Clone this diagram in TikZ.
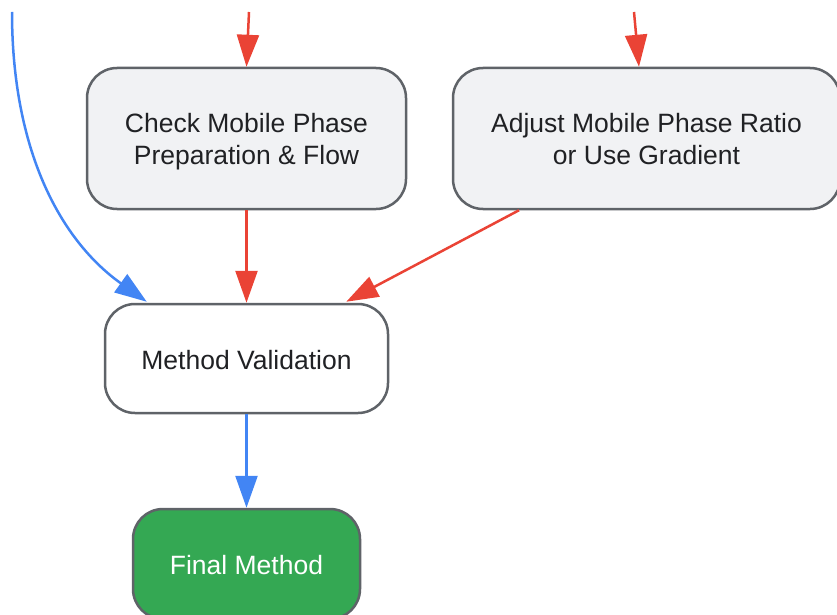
\documentclass[tikz,border=0pt]{standalone}
\usepackage{fontspec}
\setmainfont{Liberation Sans}
\usetikzlibrary{arrows.meta,calc}
\definecolor{redline}{HTML}{EA4335}
\definecolor{blueline}{HTML}{4285F4}
\definecolor{greenfill}{HTML}{34A853}
\definecolor{bordergray}{HTML}{5F6368}
\definecolor{boxfill}{HTML}{F1F2F4}
\definecolor{textdark}{HTML}{202124}
\begin{document}
\begin{tikzpicture}[x=1pt,y=-1pt,
  box/.style={draw=bordergray,line width=2.5pt,rounded corners=30pt,inner sep=0pt},
  boxtext/.style={align=center,inner sep=0pt,text=textdark,
    font=\fontsize{26.5}{32}\selectfont},
  redarrow/.style={draw=redline,line width=2.5pt,
    -{Triangle[length=32pt,width=22pt]}},
  bluearrow/.style={draw=blueline,line width=2.5pt,
    -{Triangle[length=32pt,width=22pt]}}]
\useasboundingbox (0,0) rectangle (837,615);
\node[box,fill=boxfill,minimum width=319pt,minimum height=141pt] (check) at (246.5,138.5) {};
\node[boxtext] (checkt) at (246.5,142) {Check Mobile Phase\\Preparation \& Flow};
\node[box,fill=boxfill,minimum width=387pt,minimum height=141pt] (adjust) at (646.5,138.5) {};
\node[boxtext] (adjustt) at (646.5,139) {Adjust Mobile Phase Ratio\\or Use Gradient};
\node[box,fill=white,minimum width=283pt,minimum height=109pt] (valid) at (246.5,358.5) {};
\node[boxtext] (validt) at (246.5,360) {Method Validation};
\node[box,fill=greenfill,minimum width=227pt,minimum height=110pt] (final) at (246.5,564) {};
\node[boxtext,text=white] (finalt) at (246.5,565) {Final Method};
\coordinate (t1) at (249,12);
\coordinate (t2) at (634,12);
\coordinate (t3) at (12,12);
\draw[redarrow] (t1) -- (check.north);
\draw[redarrow] (t2) -- ($(adjust.north)+(-7.5,0)$);
\draw[bluearrow] (t3) .. controls (12,150) and (60,240) .. ($(valid.north west)+(43,-1)$);
\draw[redarrow] (check.south) -- (valid.north);
\draw[redarrow] ($(adjust.south)+(-127.5,0)$) -- ($(valid.north east)+(-43,-1)$);
\draw[bluearrow] (valid.south) -- (final.north);
\end{tikzpicture}
\end{document}
